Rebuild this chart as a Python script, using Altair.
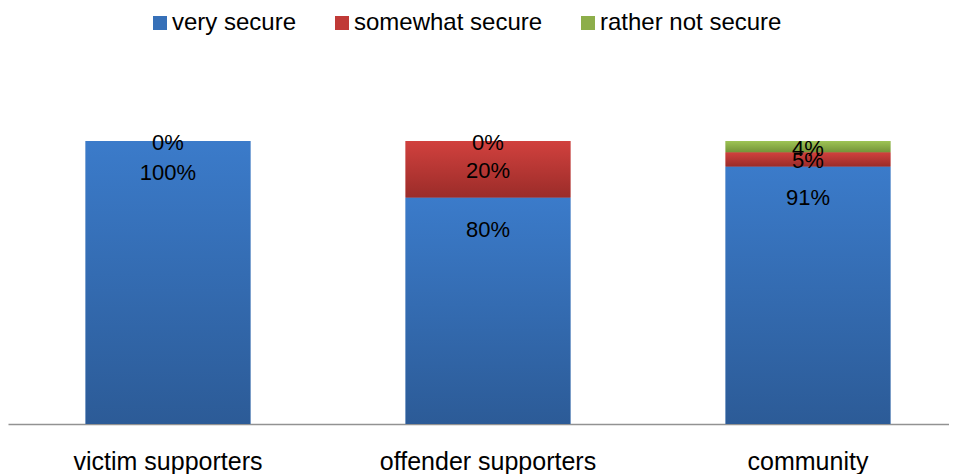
import altair as alt
import pandas as pd

categories = ["victim supporters", "offender supporters", "community"]
series = ["very secure", "somewhat secure", "rather not secure"]
very_secure = [100, 80, 91]
somewhat_secure = [0, 20, 5]
rather_not_secure = [0, 0, 4]

values = [very_secure, somewhat_secure, rather_not_secure]
colors_mid = ["#3670B8", "#C03A37", "#8DAE4A"]
grad_top = ["#3B7BCA", "#D1413E", "#9EC454"]
grad_bot = ["#2C5B97", "#9B2C29", "#749338"]

rows = []
for ci, cat in enumerate(categories):
    cum = 0
    for si, s in enumerate(series):
        v = values[si][ci]
        start, end = cum, cum + v
        cum = end
        mid = (start + end) / 2
        rows.append({"category": cat, "series": s, "value": v, "start": start,
                     "end": end, "label_y": max(end - 10.6, mid),
                     "label": f"{v}%"})
df = pd.DataFrame(rows)
labels_df = df.drop_duplicates(subset=["category", "label_y"])

FONT = "Liberation Sans"
x_enc = alt.X("category:N", sort=categories,
              scale=alt.Scale(paddingInner=0.485, paddingOuter=0.2425),
              axis=alt.Axis(title=None, labelAngle=0, ticks=False, labelFontSize=25,
                            labelFont=FONT, labelColor="#000000", labelPadding=25,
                            labelLimit=0,
                            domainColor="#929292", domainWidth=1.5))
y_scale = alt.Scale(domain=[0, 100])

base = alt.Chart(df).mark_bar().encode(
    x=x_enc,
    y=alt.Y("start:Q", scale=y_scale, axis=None),
    y2="end:Q",
    color=alt.Color("series:N", sort=series,
                    scale=alt.Scale(domain=series, range=colors_mid),
                    legend=alt.Legend(title=None, orient="none", direction="horizontal",
                                      legendX=140, legendY=-130, symbolType="square",
                                      symbolSize=196, symbolStrokeWidth=0,
                                      labelFontSize=24, labelFont=FONT, labelLimit=0,
                                      labelColor="#000000", labelOffset=0,
                                      columnPadding=33)),
)

overlays = []
for si, s in enumerate(series):
    grad = alt.Gradient(gradient="linear",
                        stops=[alt.GradientStop(color=grad_top[si], offset=0),
                               alt.GradientStop(color=grad_bot[si], offset=1)],
                        x1=0, x2=0, y1=0, y2=1)
    overlays.append(
        alt.Chart(df).transform_filter(alt.datum.series == s).mark_bar(color=grad).encode(
            x=alt.X("category:N", sort=categories),
            y=alt.Y("start:Q", scale=y_scale),
            y2="end:Q",
        )
    )

text = alt.Chart(labels_df).mark_text(fontSize=22, font=FONT, color="#000000",
                                      baseline="middle", dy=2).encode(
    x=alt.X("category:N", sort=categories),
    y=alt.Y("label_y:Q", scale=y_scale),
    text="label:N",
)

chart = alt.layer(base, *overlays, text).properties(
    width=960, height=283,
    background="#ffffff",
    autosize=alt.AutoSizeParams(type="none"),
    padding={"left": 0, "top": 133, "right": -19, "bottom": 50},
).configure_view(stroke=None, strokeWidth=0)

chart.save("out.html", embed_options={"renderer": "svg", "actions": False})
